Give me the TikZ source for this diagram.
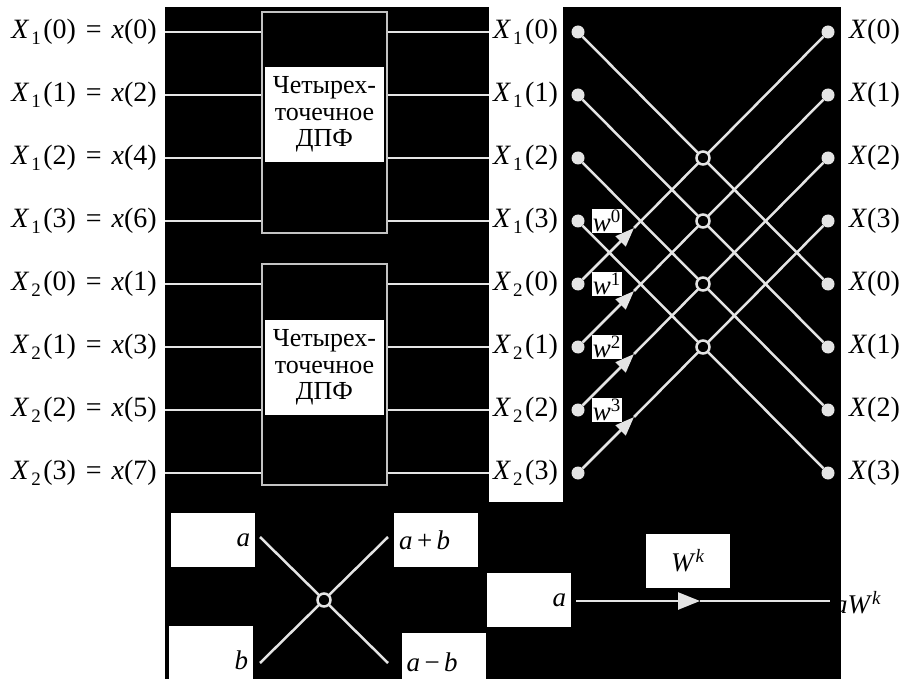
\documentclass[tikz,border=0pt]{standalone}
\usepackage{fontspec}
\setmainfont{Liberation Serif}
\usepackage{tikz}
\usetikzlibrary{arrows.meta,positioning}
\definecolor{wire}{RGB}{228,228,228}
\definecolor{boxgray}{RGB}{195,195,195}
\newcommand{\Xa}[2]{\textit{X}\kern2pt\raisebox{-6pt}{\fontsize{19}{19}\selectfont#1}\kern2.5pt(#2)}
\newcommand{\xin}[1]{\textit{x}(#1)}
\newcommand{\eqs}{\hspace{10pt}=\hspace{10pt}}
\newcommand{\dftlabel}{Четырех-\\точечное\\ДПФ}
\tikzset{
  lbl/.style={font=\fontsize{28}{32}\selectfont, inner sep=4pt},
  sig/.style={draw=wire, line width=2.5pt},
  dftbox/.style={draw=boxgray, line width=2pt, minimum width=125pt, minimum height=221pt, inner sep=0pt},
  dfttext/.style={fill=white, minimum width=119pt, minimum height=95pt, align=center,
    font=\fontsize{26}{26.5}\selectfont, inner sep=0pt},
  pnode/.style={circle, fill=wire, minimum size=13pt, inner sep=0pt},
  junc/.style={circle, draw=wire, fill=black, line width=2.5pt, minimum size=13pt, inner sep=0pt},
  wlbl/.style={fill=white, font=\fontsize{27}{28}\selectfont, inner sep=1pt},
  warrow/.style={-{Triangle[length=19pt,width=14pt]}},
  karrow/.style={-{Triangle[length=22pt,width=17pt]}},
  keybox/.style={fill=white, text width=74pt, inner xsep=5pt, inner ysep=0pt, minimum height=54pt,
    font=\fontsize{27}{30}\selectfont}
}

\begin{document}
\begin{tikzpicture}[x=1pt,y=-1pt]
\fill[white] (0,0) rectangle (913,679);
\useasboundingbox (0,0) rectangle (913,679);
\fill[black] (165,7) rectangle (841,679);
\fill[white] (489,7) rectangle (563,502);

% two four-point DFT blocks
\node[dftbox] (dftA) at (324.5,122.5) {};
\node[dfttext] (txtA) at (324.5,114.5) {\dftlabel};
\node[dftbox] (dftB) at (324.5,374.5) {};
\node[dfttext] (txtB) at (324.5,367.5) {\dftlabel};

\foreach \r/\s/\k/\m/\b in {0/1/0/0/A,1/1/1/2/A,2/1/2/4/A,3/1/3/6/A,4/2/0/1/B,5/2/1/3/B,6/2/2/5/B,7/2/3/7/B}{
  \pgfmathsetmacro\yy{32+63*\r}
  \node[lbl, anchor=east, inner xsep=8pt] (in\r) at (165,\yy) {\Xa{\s}{\k}\eqs\xin{\m}};
  \node[lbl, anchor=west] (mid\r) at (489,\yy) {\Xa{\s}{\k}};
  \node[pnode] (L\r) at (578,\yy) {};
  \node[pnode] (R\r) at (828,\yy) {};
  \node[lbl, anchor=west] (out\r) at (845,\yy) {\textit{X}(\k)};
  \draw[sig] (in\r.east) -- (in\r.east -| dft\b.west);
  \draw[sig] (mid\r.west -| dft\b.east) -- (mid\r.west);
}

% butterflies
\foreach \k in {0,...,3}{
  \pgfmathtruncatemacro\kk{\k+4}
  \coordinate (wt\k) at (634,{32+63*\kk-56});
  \draw[sig] (L\k) -- (R\kk);
  \draw[sig,warrow] (L\kk) -- (wt\k);
  \draw[sig] (wt\k) -- (R\k);
}
\foreach \k in {0,...,3}{
  \pgfmathtruncatemacro\kw{\k+3}
  \node[junc] (J\k) at (703,{158+63*\k}) {};
  \node[wlbl, right=7pt of L\kw] (w\k) {\textit{w}\textsuperscript{\k}};
}

% key: butterfly
\node[keybox, align=right] (ka) at (213,540) {\textit{a}};
\node[keybox, align=left] (kab) at (436,540) {\textit{a}\,+\,\textit{b}};
\node[keybox, align=right, minimum height=68pt] (kb) at (211,660) {\textit{b}};
\node[keybox, align=left, minimum height=58pt] (kamb) at (443.5,662) {\textit{a}\,−\,\textit{b}};
\coordinate (xa) at (260,537);
\coordinate (xb) at (260,663);
\coordinate (xapb) at (388,537);
\coordinate (xamb) at (388,663);
\draw[sig] (xa) -- (xamb);
\draw[sig] (xb) -- (xapb);
\node[junc] (xj) at (324,600) {};

% key: branch gain
\node[keybox, align=right] (ka2) at (529,600) {\textit{a}};
\node[keybox, align=center] (kw) at (688,561) {\textit{W}\textsuperscript{\textit{k}}};
\coordinate (ain) at (576,601);
\coordinate (amid) at (700,601);
\coordinate (aout) at (830,601);
\draw[sig,karrow] (ain) -- (amid);
\draw[sig] (amid) -- (aout);
\node[anchor=west, inner sep=0pt, font=\fontsize{27}{30}\selectfont] (awk) at (834,603) {\textit{aW}\textsuperscript{\textit{k}}};
\end{tikzpicture}
\end{document}
